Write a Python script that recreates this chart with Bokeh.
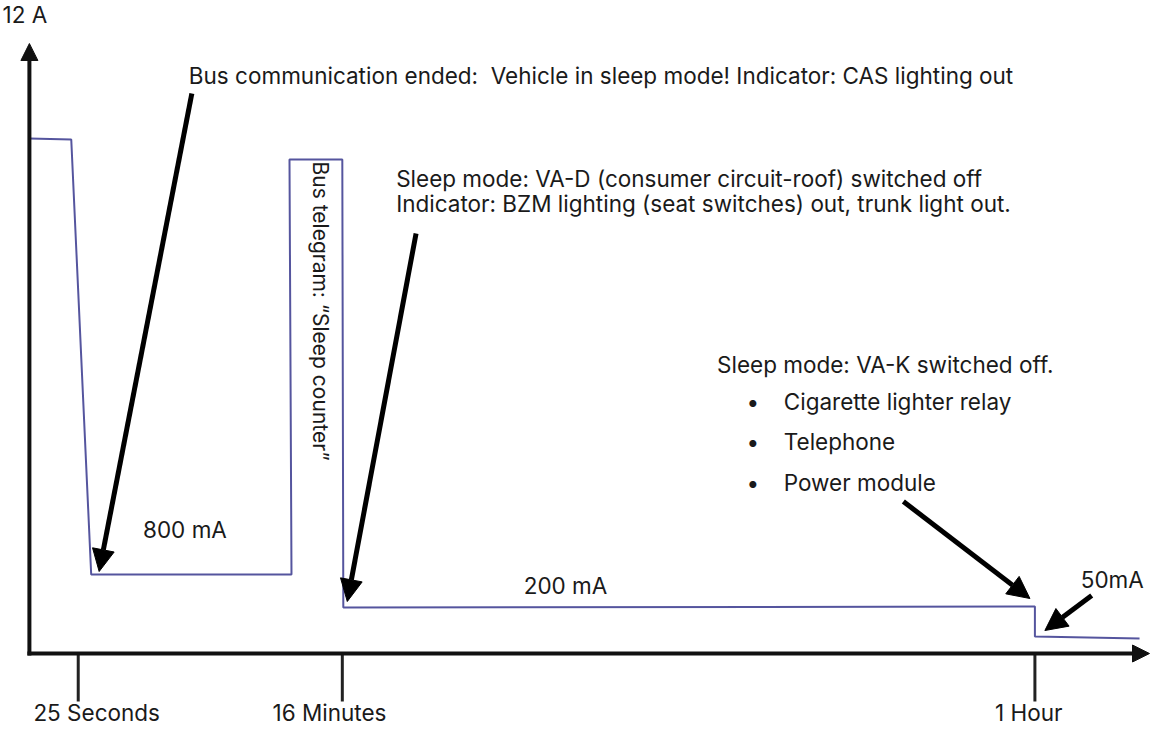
import math
from bokeh.plotting import figure
from bokeh.models import Range1d, Arrow, NormalHead
from bokeh.core.properties import value
from bokeh.embed import file_html
from bokeh.resources import INLINE

# ---- data (schematic units: x to the right of the current axis, y above the time axis) ----
time_labels = ["25 Seconds", "16 Minutes", "1 Hour"]
time_pos = [49, 314, 1009]

current_labels = ["800 mA", "200 mA", "50mA"]
max_label = "12 A"

step_x = [0, 42, 62, 263, 261, 314, 315, 1009, 1009, 1114]
step_y = [515, 514, 79, 79, 494, 494, 46, 47, 17, 15]

FONT = value("Inter")
TXT = "#1a1a1a"
FS = "22.5px"
SHIFT = 8.2  # compensation for the rendered baseline offset

p = figure(width=1151, height=725, output_backend="svg", toolbar_location=None,
           x_range=Range1d(-29, 1126), y_range=Range1d(-72, 653),
           min_border=0, x_axis_location=None, y_axis_location=None)
p.xgrid.visible = False
p.ygrid.visible = False
p.outline_line_color = None
p.background_fill_color = "white"

# current trace
p.line(step_x, step_y, line_color="#55559e", line_width=2)

# axes with arrow heads
p.add_layout(Arrow(x_start=0, y_start=-2, x_end=0, y_end=610, line_width=4, line_color="#111111",
                   end=NormalHead(size=17, fill_color="#111111", line_color="#111111")))
p.add_layout(Arrow(x_start=-2, y_start=0, x_end=1124, y_end=0, line_width=4, line_color="#111111",
                   end=NormalHead(size=17, fill_color="#111111", line_color="#111111")))

# time ticks
p.segment(x0=time_pos, y0=[0]*len(time_pos), x1=time_pos, y1=[-48]*len(time_pos),
          line_width=3, line_color="#222222")

def txt(x, y, s, rotated=False, **kw):
    if rotated:
        x = x + SHIFT
    else:
        y = y + SHIFT
    p.text(x=[x], y=[y], text=[s], text_font=FONT, text_font_size=kw.pop("size", FS),
           text_color=TXT, text_baseline=kw.pop("baseline", "alphabetic"),
           text_align=kw.pop("align", "left"), **kw)

# tick labels
for xpos, lab in zip([4, 244, 969], time_labels):
    txt(xpos, -67, lab)

txt(-27, 631, max_label)
txt(114, 116, current_labels[0])
txt(496, 60, current_labels[1])
txt(1055, 66, current_labels[2])

txt(160, 570, "Bus communication ended:\u00a0 Vehicle in sleep mode! Indicator: CAS lighting out")
txt(368, 467, "Sleep mode: VA-D (consumer circuit-roof) switched off")
txt(368, 442, "Indicator: BZM lighting (seat switches) out, trunk light out.")
txt(284, 492, "Bus telegram: \u201cSleep counter\u201d", rotated=True, angle=-math.pi / 2, size="21px")

txt(690, 281, "Sleep mode: VA-K switched off.")
for yb, item in zip([244, 204, 163], ["Cigarette lighter relay", "Telephone", "Power module"]):
    txt(726, yb, "\u2022", align="center")
    txt(757, yb, item)

# pointer arrows
for xs, ys, xe, ye in [(163, 560, 70, 82), (388, 420, 319, 52),
                       (877, 152, 1004, 55), (1066, 58, 1019, 23)]:
    p.add_layout(Arrow(x_start=xs, y_start=ys, x_end=xe, y_end=ye, line_width=5,
                       line_color="black",
                       end=NormalHead(size=22, fill_color="black", line_color="black")))

open("out.html", "w").write(file_html(p, INLINE))
